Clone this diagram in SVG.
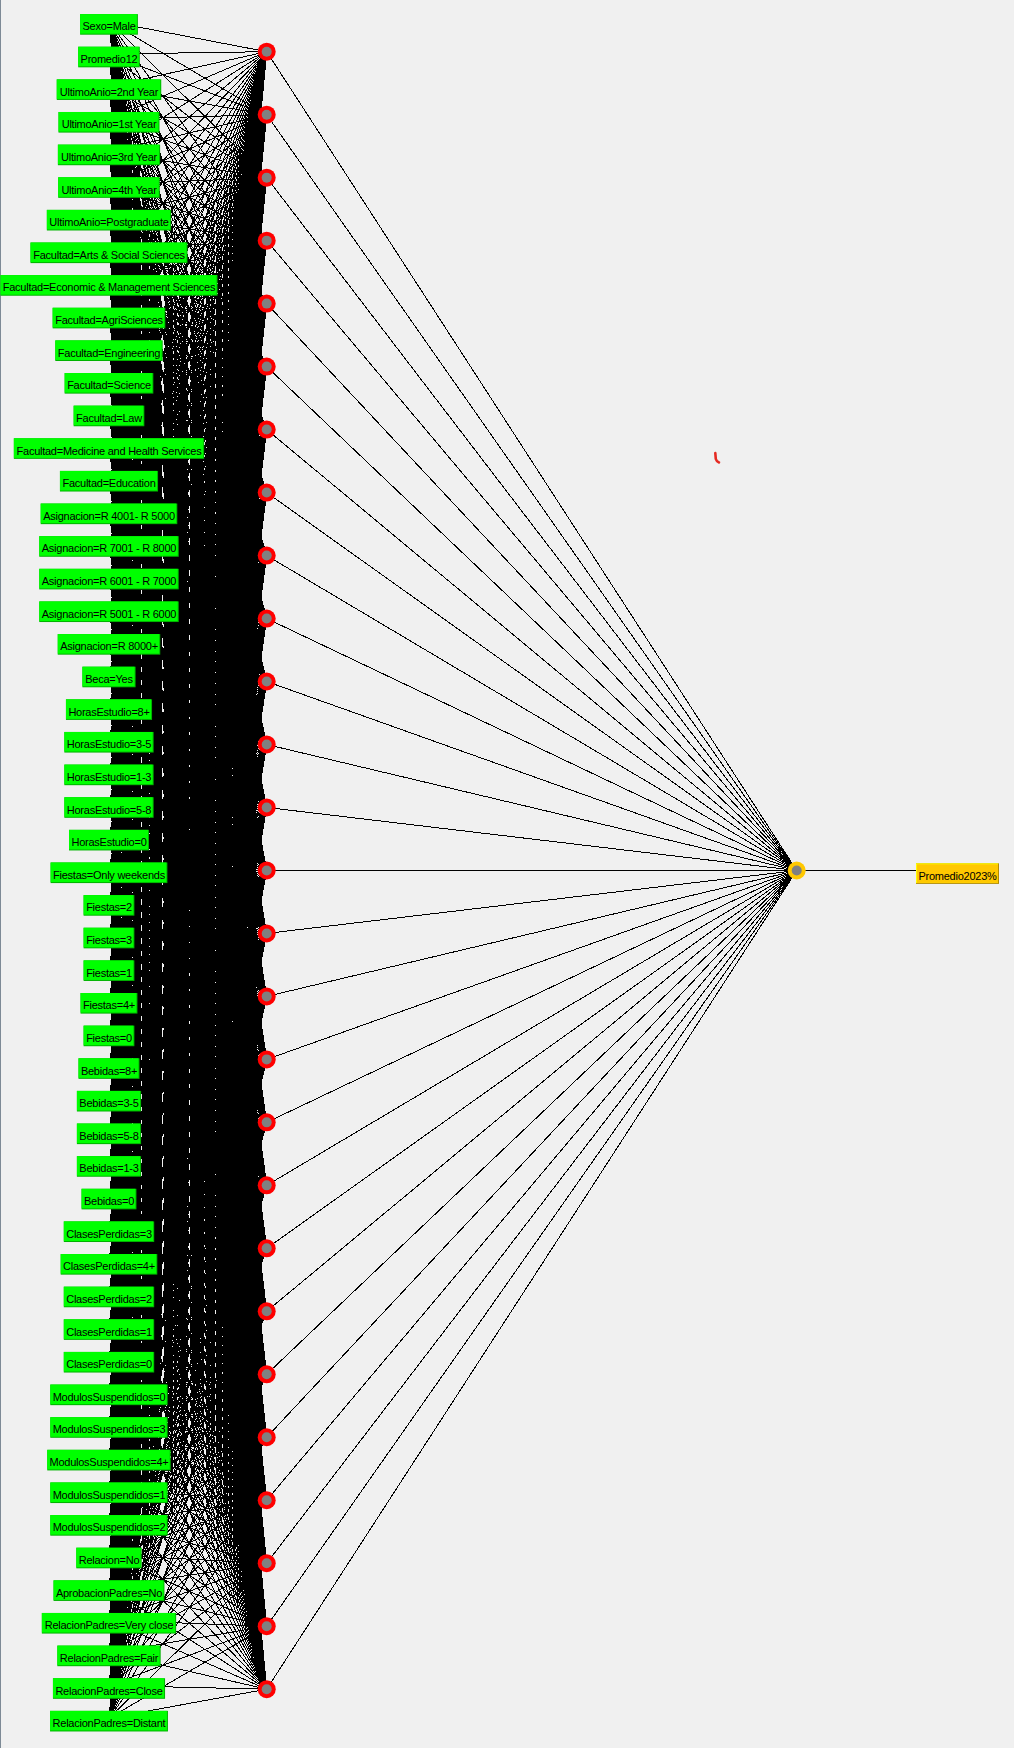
<svg xmlns="http://www.w3.org/2000/svg" width="1014" height="1748" viewBox="0 0 1014 1748">
<style>
.bg{fill:#f0f0f0}
.edge{fill:#7d8a96}
.wire{fill:none;stroke:#000;stroke-width:1;shape-rendering:crispEdges}
.fan{fill:none;stroke:#000;stroke-width:1;vector-effect:non-scaling-stroke;shape-rendering:crispEdges}
.gd{fill:#00b200}
.gl{fill:#00ff00}
.yd{fill:#b28c00}
.yb{fill:#ffff00}
.yl{fill:#ffc800}
.t{font-family:"Liberation Sans",Arial,sans-serif;font-size:11px;letter-spacing:-0.25px;fill:#000;text-anchor:middle}
.hr{fill:#ff0000}
.or{fill:#ffc800}
.core{fill:#808080}
</style>
<defs>
<path id="fan" class="fan" d="M0 51.7L1 0M0 114.68L1 0M0 177.66L1 0M0 240.64L1 0M0 303.62L1 0M0 366.6L1 0M0 429.58L1 0M0 492.56L1 0M0 555.54L1 0M0 618.52L1 0M0 681.5L1 0M0 744.48L1 0M0 807.46L1 0M0 870.44L1 0M0 933.42L1 0M0 996.4L1 0M0 1059.38L1 0M0 1122.36L1 0M0 1185.34L1 0M0 1248.32L1 0M0 1311.3L1 0M0 1374.28L1 0M0 1437.26L1 0M0 1500.24L1 0M0 1563.22L1 0M0 1626.2L1 0M0 1689.18L1 0"/>
</defs>
<rect class="bg" x="0" y="0" width="1014" height="1748"/>
<rect class="edge" x="0" y="0" width="1" height="1748"/>
<path d="M715.3 453 L715.8 459 Q716.5 461.6 719 462.4" fill="none" stroke="#e52a22" stroke-width="2.6" stroke-linecap="round"/>
<g id="connectors">
<use href="#fan" transform="matrix(-157.7 21.4 0 1 266.7 0)"/>
<use href="#fan" transform="matrix(-157.7 54.03 0 1 266.7 0)"/>
<use href="#fan" transform="matrix(-157.7 86.66 0 1 266.7 0)"/>
<use href="#fan" transform="matrix(-157.7 119.29 0 1 266.7 0)"/>
<use href="#fan" transform="matrix(-157.7 151.92 0 1 266.7 0)"/>
<use href="#fan" transform="matrix(-157.7 184.55 0 1 266.7 0)"/>
<use href="#fan" transform="matrix(-157.7 217.18 0 1 266.7 0)"/>
<use href="#fan" transform="matrix(-157.7 249.81 0 1 266.7 0)"/>
<use href="#fan" transform="matrix(-157.7 282.44 0 1 266.7 0)"/>
<use href="#fan" transform="matrix(-157.7 315.07 0 1 266.7 0)"/>
<use href="#fan" transform="matrix(-157.7 347.7 0 1 266.7 0)"/>
<use href="#fan" transform="matrix(-157.7 380.33 0 1 266.7 0)"/>
<use href="#fan" transform="matrix(-157.7 412.96 0 1 266.7 0)"/>
<use href="#fan" transform="matrix(-157.7 445.59 0 1 266.7 0)"/>
<use href="#fan" transform="matrix(-157.7 478.22 0 1 266.7 0)"/>
<use href="#fan" transform="matrix(-157.7 510.85 0 1 266.7 0)"/>
<use href="#fan" transform="matrix(-157.7 543.48 0 1 266.7 0)"/>
<use href="#fan" transform="matrix(-157.7 576.11 0 1 266.7 0)"/>
<use href="#fan" transform="matrix(-157.7 608.74 0 1 266.7 0)"/>
<use href="#fan" transform="matrix(-157.7 641.37 0 1 266.7 0)"/>
<use href="#fan" transform="matrix(-157.7 674 0 1 266.7 0)"/>
<use href="#fan" transform="matrix(-157.7 706.63 0 1 266.7 0)"/>
<use href="#fan" transform="matrix(-157.7 739.26 0 1 266.7 0)"/>
<use href="#fan" transform="matrix(-157.7 771.89 0 1 266.7 0)"/>
<use href="#fan" transform="matrix(-157.7 804.52 0 1 266.7 0)"/>
<use href="#fan" transform="matrix(-157.7 837.15 0 1 266.7 0)"/>
<use href="#fan" transform="matrix(-157.7 869.78 0 1 266.7 0)"/>
<use href="#fan" transform="matrix(-157.7 902.41 0 1 266.7 0)"/>
<use href="#fan" transform="matrix(-157.7 935.04 0 1 266.7 0)"/>
<use href="#fan" transform="matrix(-157.7 967.67 0 1 266.7 0)"/>
<use href="#fan" transform="matrix(-157.7 1000.3 0 1 266.7 0)"/>
<use href="#fan" transform="matrix(-157.7 1032.93 0 1 266.7 0)"/>
<use href="#fan" transform="matrix(-157.7 1065.56 0 1 266.7 0)"/>
<use href="#fan" transform="matrix(-157.7 1098.19 0 1 266.7 0)"/>
<use href="#fan" transform="matrix(-157.7 1130.82 0 1 266.7 0)"/>
<use href="#fan" transform="matrix(-157.7 1163.45 0 1 266.7 0)"/>
<use href="#fan" transform="matrix(-157.7 1196.08 0 1 266.7 0)"/>
<use href="#fan" transform="matrix(-157.7 1228.71 0 1 266.7 0)"/>
<use href="#fan" transform="matrix(-157.7 1261.34 0 1 266.7 0)"/>
<use href="#fan" transform="matrix(-157.7 1293.97 0 1 266.7 0)"/>
<use href="#fan" transform="matrix(-157.7 1326.6 0 1 266.7 0)"/>
<use href="#fan" transform="matrix(-157.7 1359.23 0 1 266.7 0)"/>
<use href="#fan" transform="matrix(-157.7 1391.86 0 1 266.7 0)"/>
<use href="#fan" transform="matrix(-157.7 1424.49 0 1 266.7 0)"/>
<use href="#fan" transform="matrix(-157.7 1457.12 0 1 266.7 0)"/>
<use href="#fan" transform="matrix(-157.7 1489.75 0 1 266.7 0)"/>
<use href="#fan" transform="matrix(-157.7 1522.38 0 1 266.7 0)"/>
<use href="#fan" transform="matrix(-157.7 1555.01 0 1 266.7 0)"/>
<use href="#fan" transform="matrix(-157.7 1587.64 0 1 266.7 0)"/>
<use href="#fan" transform="matrix(-157.7 1620.27 0 1 266.7 0)"/>
<use href="#fan" transform="matrix(-157.7 1652.9 0 1 266.7 0)"/>
<use href="#fan" transform="matrix(-157.7 1685.53 0 1 266.7 0)"/>
<use href="#fan" transform="matrix(-157.7 1718.16 0 1 266.7 0)"/>
<path class="wire" d="M266.7 51.7L796.7 870.5M266.7 114.68L796.7 870.5M266.7 177.66L796.7 870.5M266.7 240.64L796.7 870.5M266.7 303.62L796.7 870.5M266.7 366.6L796.7 870.5M266.7 429.58L796.7 870.5M266.7 492.56L796.7 870.5M266.7 555.54L796.7 870.5M266.7 618.52L796.7 870.5M266.7 681.5L796.7 870.5M266.7 744.48L796.7 870.5M266.7 807.46L796.7 870.5M266.7 870.5L796.7 870.5M266.7 933.42L796.7 870.5M266.7 996.4L796.7 870.5M266.7 1059.38L796.7 870.5M266.7 1122.36L796.7 870.5M266.7 1185.34L796.7 870.5M266.7 1248.32L796.7 870.5M266.7 1311.3L796.7 870.5M266.7 1374.28L796.7 870.5M266.7 1437.26L796.7 870.5M266.7 1500.24L796.7 870.5M266.7 1563.22L796.7 870.5M266.7 1626.2L796.7 870.5M266.7 1689.18L796.7 870.5"/>
<path class="wire" d="M796.7 870.5H957"/>
</g>
<g id="hidden-nodes">
<g id="h0"><circle class="hr" cx="266.7" cy="51.7" r="9"/><circle class="core" cx="266.7" cy="51.7" r="5"/></g>
<g id="h1"><circle class="hr" cx="266.7" cy="114.68" r="9"/><circle class="core" cx="266.7" cy="114.68" r="5"/></g>
<g id="h2"><circle class="hr" cx="266.7" cy="177.66" r="9"/><circle class="core" cx="266.7" cy="177.66" r="5"/></g>
<g id="h3"><circle class="hr" cx="266.7" cy="240.64" r="9"/><circle class="core" cx="266.7" cy="240.64" r="5"/></g>
<g id="h4"><circle class="hr" cx="266.7" cy="303.62" r="9"/><circle class="core" cx="266.7" cy="303.62" r="5"/></g>
<g id="h5"><circle class="hr" cx="266.7" cy="366.6" r="9"/><circle class="core" cx="266.7" cy="366.6" r="5"/></g>
<g id="h6"><circle class="hr" cx="266.7" cy="429.58" r="9"/><circle class="core" cx="266.7" cy="429.58" r="5"/></g>
<g id="h7"><circle class="hr" cx="266.7" cy="492.56" r="9"/><circle class="core" cx="266.7" cy="492.56" r="5"/></g>
<g id="h8"><circle class="hr" cx="266.7" cy="555.54" r="9"/><circle class="core" cx="266.7" cy="555.54" r="5"/></g>
<g id="h9"><circle class="hr" cx="266.7" cy="618.52" r="9"/><circle class="core" cx="266.7" cy="618.52" r="5"/></g>
<g id="h10"><circle class="hr" cx="266.7" cy="681.5" r="9"/><circle class="core" cx="266.7" cy="681.5" r="5"/></g>
<g id="h11"><circle class="hr" cx="266.7" cy="744.48" r="9"/><circle class="core" cx="266.7" cy="744.48" r="5"/></g>
<g id="h12"><circle class="hr" cx="266.7" cy="807.46" r="9"/><circle class="core" cx="266.7" cy="807.46" r="5"/></g>
<g id="h13"><circle class="hr" cx="266.7" cy="870.44" r="9"/><circle class="core" cx="266.7" cy="870.44" r="5"/></g>
<g id="h14"><circle class="hr" cx="266.7" cy="933.42" r="9"/><circle class="core" cx="266.7" cy="933.42" r="5"/></g>
<g id="h15"><circle class="hr" cx="266.7" cy="996.4" r="9"/><circle class="core" cx="266.7" cy="996.4" r="5"/></g>
<g id="h16"><circle class="hr" cx="266.7" cy="1059.38" r="9"/><circle class="core" cx="266.7" cy="1059.38" r="5"/></g>
<g id="h17"><circle class="hr" cx="266.7" cy="1122.36" r="9"/><circle class="core" cx="266.7" cy="1122.36" r="5"/></g>
<g id="h18"><circle class="hr" cx="266.7" cy="1185.34" r="9"/><circle class="core" cx="266.7" cy="1185.34" r="5"/></g>
<g id="h19"><circle class="hr" cx="266.7" cy="1248.32" r="9"/><circle class="core" cx="266.7" cy="1248.32" r="5"/></g>
<g id="h20"><circle class="hr" cx="266.7" cy="1311.3" r="9"/><circle class="core" cx="266.7" cy="1311.3" r="5"/></g>
<g id="h21"><circle class="hr" cx="266.7" cy="1374.28" r="9"/><circle class="core" cx="266.7" cy="1374.28" r="5"/></g>
<g id="h22"><circle class="hr" cx="266.7" cy="1437.26" r="9"/><circle class="core" cx="266.7" cy="1437.26" r="5"/></g>
<g id="h23"><circle class="hr" cx="266.7" cy="1500.24" r="9"/><circle class="core" cx="266.7" cy="1500.24" r="5"/></g>
<g id="h24"><circle class="hr" cx="266.7" cy="1563.22" r="9"/><circle class="core" cx="266.7" cy="1563.22" r="5"/></g>
<g id="h25"><circle class="hr" cx="266.7" cy="1626.2" r="9"/><circle class="core" cx="266.7" cy="1626.2" r="5"/></g>
<g id="h26"><circle class="hr" cx="266.7" cy="1689.18" r="9"/><circle class="core" cx="266.7" cy="1689.18" r="5"/></g>
</g>
<g id="output-node"><circle class="or" cx="796.7" cy="870.5" r="9"/><circle class="core" cx="796.7" cy="870.5" r="5"/></g>
<g id="output-label"><rect class="yd" x="916" y="863.3" width="83" height="20.6"/><rect class="yb" x="916" y="863.3" width="82" height="19.6"/><rect class="yl" x="917" y="864.3" width="81" height="18.6"/><text class="t" x="957.5" y="879.6">Promedio2023%</text></g>
<g id="input-nodes">
<g id="in0"><rect class="gd" x="80.1" y="14.1" width="57.8" height="20.6"/><rect class="gl" x="80.1" y="14.1" width="56.8" height="19.6"/><text class="t" x="109" y="30.4">Sexo=Male</text></g>
<g id="in1"><rect class="gd" x="78.2" y="46.73" width="61.6" height="20.6"/><rect class="gl" x="78.2" y="46.73" width="60.6" height="19.6"/><text class="t" x="109" y="63.03">Promedio12</text></g>
<g id="in2"><rect class="gd" x="56.75" y="79.36" width="104.5" height="20.6"/><rect class="gl" x="56.75" y="79.36" width="103.5" height="19.6"/><text class="t" x="109" y="95.66">UltimoAnio=2nd Year</text></g>
<g id="in3"><rect class="gd" x="58.5" y="111.99" width="101" height="20.6"/><rect class="gl" x="58.5" y="111.99" width="100" height="19.6"/><text class="t" x="109" y="128.29">UltimoAnio=1st Year</text></g>
<g id="in4"><rect class="gd" x="57.9" y="144.62" width="102.2" height="20.6"/><rect class="gl" x="57.9" y="144.62" width="101.2" height="19.6"/><text class="t" x="109" y="160.92">UltimoAnio=3rd Year</text></g>
<g id="in5"><rect class="gd" x="58.2" y="177.25" width="101.6" height="20.6"/><rect class="gl" x="58.2" y="177.25" width="100.6" height="19.6"/><text class="t" x="109" y="193.55">UltimoAnio=4th Year</text></g>
<g id="in6"><rect class="gd" x="46.85" y="209.88" width="124.3" height="20.6"/><rect class="gl" x="46.85" y="209.88" width="123.3" height="19.6"/><text class="t" x="109" y="226.18">UltimoAnio=Postgraduate</text></g>
<g id="in7"><rect class="gd" x="30.5" y="242.51" width="157" height="20.6"/><rect class="gl" x="30.5" y="242.51" width="156" height="19.6"/><text class="t" x="109" y="258.81">Facultad=Arts &amp; Social Sciences</text></g>
<g id="in8"><rect class="gd" x="0.45" y="275.14" width="217.1" height="20.6"/><rect class="gl" x="0.45" y="275.14" width="216.1" height="19.6"/><text class="t" x="109" y="291.44">Facultad=Economic &amp; Management Sciences</text></g>
<g id="in9"><rect class="gd" x="52.65" y="307.77" width="112.7" height="20.6"/><rect class="gl" x="52.65" y="307.77" width="111.7" height="19.6"/><text class="t" x="109" y="324.07">Facultad=AgriSciences</text></g>
<g id="in10"><rect class="gd" x="55.3" y="340.4" width="107.4" height="20.6"/><rect class="gl" x="55.3" y="340.4" width="106.4" height="19.6"/><text class="t" x="109" y="356.7">Facultad=Engineering</text></g>
<g id="in11"><rect class="gd" x="64.65" y="373.03" width="88.7" height="20.6"/><rect class="gl" x="64.65" y="373.03" width="87.7" height="19.6"/><text class="t" x="109" y="389.33">Facultad=Science</text></g>
<g id="in12"><rect class="gd" x="73.65" y="405.66" width="70.7" height="20.6"/><rect class="gl" x="73.65" y="405.66" width="69.7" height="19.6"/><text class="t" x="109" y="421.96">Facultad=Law</text></g>
<g id="in13"><rect class="gd" x="13.85" y="438.29" width="190.3" height="20.6"/><rect class="gl" x="13.85" y="438.29" width="189.3" height="19.6"/><text class="t" x="109" y="454.59">Facultad=Medicine and Health Services</text></g>
<g id="in14"><rect class="gd" x="59.95" y="470.92" width="98.1" height="20.6"/><rect class="gl" x="59.95" y="470.92" width="97.1" height="19.6"/><text class="t" x="109" y="487.22">Facultad=Education</text></g>
<g id="in15"><rect class="gd" x="40.7" y="503.55" width="136.6" height="20.6"/><rect class="gl" x="40.7" y="503.55" width="135.6" height="19.6"/><text class="t" x="109" y="519.85">Asignacion=R 4001- R 5000</text></g>
<g id="in16"><rect class="gd" x="39.25" y="536.18" width="139.5" height="20.6"/><rect class="gl" x="39.25" y="536.18" width="138.5" height="19.6"/><text class="t" x="109" y="552.48">Asignacion=R 7001 - R 8000</text></g>
<g id="in17"><rect class="gd" x="39.25" y="568.81" width="139.5" height="20.6"/><rect class="gl" x="39.25" y="568.81" width="138.5" height="19.6"/><text class="t" x="109" y="585.11">Asignacion=R 6001 - R 7000</text></g>
<g id="in18"><rect class="gd" x="39.25" y="601.44" width="139.5" height="20.6"/><rect class="gl" x="39.25" y="601.44" width="138.5" height="19.6"/><text class="t" x="109" y="617.74">Asignacion=R 5001 - R 6000</text></g>
<g id="in19"><rect class="gd" x="57.75" y="634.07" width="102.5" height="20.6"/><rect class="gl" x="57.75" y="634.07" width="101.5" height="19.6"/><text class="t" x="109" y="650.37">Asignacion=R 8000+</text></g>
<g id="in20"><rect class="gd" x="82.4" y="666.7" width="53.2" height="20.6"/><rect class="gl" x="82.4" y="666.7" width="52.2" height="19.6"/><text class="t" x="109" y="683">Beca=Yes</text></g>
<g id="in21"><rect class="gd" x="65.95" y="699.33" width="86.1" height="20.6"/><rect class="gl" x="65.95" y="699.33" width="85.1" height="19.6"/><text class="t" x="109" y="715.63">HorasEstudio=8+</text></g>
<g id="in22"><rect class="gd" x="64.35" y="731.96" width="89.3" height="20.6"/><rect class="gl" x="64.35" y="731.96" width="88.3" height="19.6"/><text class="t" x="109" y="748.26">HorasEstudio=3-5</text></g>
<g id="in23"><rect class="gd" x="64.35" y="764.59" width="89.3" height="20.6"/><rect class="gl" x="64.35" y="764.59" width="88.3" height="19.6"/><text class="t" x="109" y="780.89">HorasEstudio=1-3</text></g>
<g id="in24"><rect class="gd" x="64.35" y="797.22" width="89.3" height="20.6"/><rect class="gl" x="64.35" y="797.22" width="88.3" height="19.6"/><text class="t" x="109" y="813.52">HorasEstudio=5-8</text></g>
<g id="in25"><rect class="gd" x="69" y="829.85" width="80" height="20.6"/><rect class="gl" x="69" y="829.85" width="79" height="19.6"/><text class="t" x="109" y="846.15">HorasEstudio=0</text></g>
<g id="in26"><rect class="gd" x="50.6" y="862.48" width="116.8" height="20.6"/><rect class="gl" x="50.6" y="862.48" width="115.8" height="19.6"/><text class="t" x="109" y="878.78">Fiestas=Only weekends</text></g>
<g id="in27"><rect class="gd" x="83.6" y="895.11" width="50.8" height="20.6"/><rect class="gl" x="83.6" y="895.11" width="49.8" height="19.6"/><text class="t" x="109" y="911.41">Fiestas=2</text></g>
<g id="in28"><rect class="gd" x="83.6" y="927.74" width="50.8" height="20.6"/><rect class="gl" x="83.6" y="927.74" width="49.8" height="19.6"/><text class="t" x="109" y="944.04">Fiestas=3</text></g>
<g id="in29"><rect class="gd" x="83.6" y="960.37" width="50.8" height="20.6"/><rect class="gl" x="83.6" y="960.37" width="49.8" height="19.6"/><text class="t" x="109" y="976.67">Fiestas=1</text></g>
<g id="in30"><rect class="gd" x="80.55" y="993" width="56.9" height="20.6"/><rect class="gl" x="80.55" y="993" width="55.9" height="19.6"/><text class="t" x="109" y="1009.3">Fiestas=4+</text></g>
<g id="in31"><rect class="gd" x="83.6" y="1025.63" width="50.8" height="20.6"/><rect class="gl" x="83.6" y="1025.63" width="49.8" height="19.6"/><text class="t" x="109" y="1041.93">Fiestas=0</text></g>
<g id="in32"><rect class="gd" x="78.5" y="1058.26" width="61" height="20.6"/><rect class="gl" x="78.5" y="1058.26" width="60" height="19.6"/><text class="t" x="109" y="1074.56">Bebidas=8+</text></g>
<g id="in33"><rect class="gd" x="76.9" y="1090.89" width="64.2" height="20.6"/><rect class="gl" x="76.9" y="1090.89" width="63.2" height="19.6"/><text class="t" x="109" y="1107.19">Bebidas=3-5</text></g>
<g id="in34"><rect class="gd" x="76.9" y="1123.52" width="64.2" height="20.6"/><rect class="gl" x="76.9" y="1123.52" width="63.2" height="19.6"/><text class="t" x="109" y="1139.82">Bebidas=5-8</text></g>
<g id="in35"><rect class="gd" x="76.9" y="1156.15" width="64.2" height="20.6"/><rect class="gl" x="76.9" y="1156.15" width="63.2" height="19.6"/><text class="t" x="109" y="1172.45">Bebidas=1-3</text></g>
<g id="in36"><rect class="gd" x="81.55" y="1188.78" width="54.9" height="20.6"/><rect class="gl" x="81.55" y="1188.78" width="53.9" height="19.6"/><text class="t" x="109" y="1205.08">Bebidas=0</text></g>
<g id="in37"><rect class="gd" x="63.8" y="1221.41" width="90.4" height="20.6"/><rect class="gl" x="63.8" y="1221.41" width="89.4" height="19.6"/><text class="t" x="109" y="1237.71">ClasesPerdidas=3</text></g>
<g id="in38"><rect class="gd" x="60.7" y="1254.04" width="96.6" height="20.6"/><rect class="gl" x="60.7" y="1254.04" width="95.6" height="19.6"/><text class="t" x="109" y="1270.34">ClasesPerdidas=4+</text></g>
<g id="in39"><rect class="gd" x="63.8" y="1286.67" width="90.4" height="20.6"/><rect class="gl" x="63.8" y="1286.67" width="89.4" height="19.6"/><text class="t" x="109" y="1302.97">ClasesPerdidas=2</text></g>
<g id="in40"><rect class="gd" x="63.8" y="1319.3" width="90.4" height="20.6"/><rect class="gl" x="63.8" y="1319.3" width="89.4" height="19.6"/><text class="t" x="109" y="1335.6">ClasesPerdidas=1</text></g>
<g id="in41"><rect class="gd" x="63.8" y="1351.93" width="90.4" height="20.6"/><rect class="gl" x="63.8" y="1351.93" width="89.4" height="19.6"/><text class="t" x="109" y="1368.23">ClasesPerdidas=0</text></g>
<g id="in42"><rect class="gd" x="50.3" y="1384.56" width="117.4" height="20.6"/><rect class="gl" x="50.3" y="1384.56" width="116.4" height="19.6"/><text class="t" x="109" y="1400.86">ModulosSuspendidos=0</text></g>
<g id="in43"><rect class="gd" x="50.3" y="1417.19" width="117.4" height="20.6"/><rect class="gl" x="50.3" y="1417.19" width="116.4" height="19.6"/><text class="t" x="109" y="1433.49">ModulosSuspendidos=3</text></g>
<g id="in44"><rect class="gd" x="47.25" y="1449.82" width="123.5" height="20.6"/><rect class="gl" x="47.25" y="1449.82" width="122.5" height="19.6"/><text class="t" x="109" y="1466.12">ModulosSuspendidos=4+</text></g>
<g id="in45"><rect class="gd" x="50.3" y="1482.45" width="117.4" height="20.6"/><rect class="gl" x="50.3" y="1482.45" width="116.4" height="19.6"/><text class="t" x="109" y="1498.75">ModulosSuspendidos=1</text></g>
<g id="in46"><rect class="gd" x="50.3" y="1515.08" width="117.4" height="20.6"/><rect class="gl" x="50.3" y="1515.08" width="116.4" height="19.6"/><text class="t" x="109" y="1531.38">ModulosSuspendidos=2</text></g>
<g id="in47"><rect class="gd" x="76.3" y="1547.71" width="65.4" height="20.6"/><rect class="gl" x="76.3" y="1547.71" width="64.4" height="19.6"/><text class="t" x="109" y="1564.01">Relacion=No</text></g>
<g id="in48"><rect class="gd" x="53.55" y="1580.34" width="110.9" height="20.6"/><rect class="gl" x="53.55" y="1580.34" width="109.9" height="19.6"/><text class="t" x="109" y="1596.64">AprobacionPadres=No</text></g>
<g id="in49"><rect class="gd" x="41.85" y="1612.97" width="134.3" height="20.6"/><rect class="gl" x="41.85" y="1612.97" width="133.3" height="19.6"/><text class="t" x="109" y="1629.27">RelacionPadres=Very close</text></g>
<g id="in50"><rect class="gd" x="57.35" y="1645.6" width="103.3" height="20.6"/><rect class="gl" x="57.35" y="1645.6" width="102.3" height="19.6"/><text class="t" x="109" y="1661.9">RelacionPadres=Fair</text></g>
<g id="in51"><rect class="gd" x="52.95" y="1678.23" width="112.1" height="20.6"/><rect class="gl" x="52.95" y="1678.23" width="111.1" height="19.6"/><text class="t" x="109" y="1694.53">RelacionPadres=Close</text></g>
<g id="in52"><rect class="gd" x="50.05" y="1710.86" width="117.9" height="20.6"/><rect class="gl" x="50.05" y="1710.86" width="116.9" height="19.6"/><text class="t" x="109" y="1727.16">RelacionPadres=Distant</text></g>
</g>
</svg>
